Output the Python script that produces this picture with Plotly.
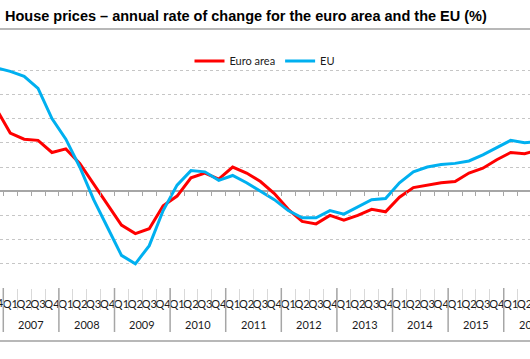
import plotly.graph_objects as go

# ---- data -------------------------------------------------------------
quarters = ["Q1", "Q2", "Q3", "Q4"]
periods = ["2006Q4"] + [f"{y}{q}" for y in range(2007, 2016) for q in quarters] + ["2016Q1", "2016Q2", "2016Q3"]

euro_area = [6.8, 4.8, 4.3, 4.2, 3.2, 3.5, 2.3, 0.6, -1.1, -2.8, -3.5, -3.1, -1.2,
             -0.4, 1.1, 1.5, 1.0, 2.0, 1.5, 0.8, -0.2, -1.5, -2.5, -2.7, -2.0,
             -2.4, -2.0, -1.5, -1.7, -0.5, 0.3, 0.5, 0.7, 0.8, 1.5, 1.9, 2.6,
             3.2, 3.1, 3.4]
eu = [10.2, 9.9, 9.5, 8.5, 6.0, 4.3, 2.0, -0.7, -3.0, -5.3, -6.0, -4.5, -1.6,
      0.5, 1.7, 1.6, 0.9, 1.3, 0.7, 0.0, -0.7, -1.6, -2.2, -2.2, -1.6,
      -1.9, -1.3, -0.7, -0.6, 0.7, 1.6, 2.0, 2.2, 2.3, 2.5, 3.0, 3.6,
      4.2, 4.0, 4.1]

year_labels = [str(y) for y in range(2007, 2017)]

# ---- geometry helpers --------------------------------------------------
W, H = 530, 359
TOP, BOTTOM = 46, 288             # plot area in px
X_RANGE = [-0.737, 37.39]         # visible window (quarter index, 0 = 2007Q1)
Y_RANGE = [-8, 12]

def idx(p):
    y, q = int(p[:4]), int(p[-1])
    return (y - 2007) * 4 + (q - 1)

xs = [idx(p) for p in periods]
qtext = ["Q" + p[-1] for p in periods]

def xpaper(v):
    return (v - X_RANGE[0]) / (X_RANGE[1] - X_RANGE[0])

def ypaper(px):
    return (BOTTOM - px) / (BOTTOM - TOP)

FONT = "Lato, Carlito, Calibri, sans-serif"
GRID = "#c6c6c6"
AXIS = "#a6a6a6"
TXT = "#1a1a1a"

fig = go.Figure()
fig.add_trace(go.Scatter(x=xs, y=euro_area, mode="lines", name="Euro area",
                         line=dict(color="#ff0000", width=3)))
fig.add_trace(go.Scatter(x=xs, y=eu, mode="lines", name="EU",
                         line=dict(color="#00b0f0", width=3)))
# helper trace so the zero-line tick axis is drawn
fig.add_trace(go.Scatter(x=[], y=[], xaxis="x2", showlegend=False, hoverinfo="skip"))

shapes = []
# year dividers below the axis
for k in range(0, 11):
    b = -0.5 + 4 * k
    if X_RANGE[0] <= b <= X_RANGE[1]:
        shapes.append(dict(type="line", xref="x", yref="paper", x0=b, x1=b,
                           y0=0, y1=ypaper(332), line=dict(color=AXIS, width=1.5)))
# frame lines (title underline and bottom border)
shapes.append(dict(type="line", xref="paper", yref="paper", x0=0, x1=1,
                   y0=ypaper(29), y1=ypaper(29), line=dict(color="#a0a0a0", width=1.5)))
shapes.append(dict(type="line", xref="paper", yref="paper", x0=0, x1=1,
                   y0=ypaper(341), y1=ypaper(341), line=dict(color="#a0a0a0", width=1.5)))

annotations = []
for i, yl in enumerate(year_labels):
    c = 1.5 + 4 * i
    annotations.append(dict(text=yl, xref="paper", yref="paper", x=xpaper(c),
                            y=ypaper(324), xanchor="center", yanchor="middle",
                            showarrow=False, font=dict(family=FONT, size=11, color=TXT)))
# quarter labels of periods lying just outside the visible window (partly shown)
for x, t in zip(xs, qtext):
    if x < X_RANGE[0] or x > X_RANGE[1]:
        annotations.append(dict(text=t, xref="paper", yref="paper", x=xpaper(x),
                                y=ypaper(302.5), xanchor="center", yanchor="middle",
                                showarrow=False, font=dict(family=FONT, size=11, color=TXT)))

fig.update_layout(
    width=W, height=H,
    margin=dict(l=0, r=0, t=TOP, b=H - BOTTOM, pad=0),
    paper_bgcolor="white", plot_bgcolor="white",
    title=dict(text="<b>House prices – annual rate of change for the euro area and the EU (%)</b>",
               x=5 / W, xanchor="left", xref="paper", y=1 - 16 / H, yanchor="middle",
               font=dict(family="Liberation Sans, Arial, sans-serif", size=14.5, color="#000000")),
    legend=dict(orientation="h", x=0.5, xanchor="center", y=ypaper(61), yanchor="middle",
                font=dict(family=FONT, size=11, color=TXT), itemwidth=30,
                bgcolor="rgba(0,0,0,0)", tracegroupgap=0),
    xaxis=dict(range=X_RANGE, tickmode="array", tickvals=xs, ticktext=qtext,
               tickangle=0, ticks="", showgrid=False, zeroline=False, showline=False,
               automargin=False, ticklabelstandoff=8, ticklabeloverflow="allow",
               tickfont=dict(family=FONT, size=11, color=TXT),
               minor=dict(tick0=-0.5, dtick=1, ticks="outside", ticklen=21,
                          tickcolor="#d9d9d9", tickwidth=1, showgrid=False)),
    xaxis2=dict(range=X_RANGE, overlaying="x", anchor="free", position=ypaper(191.3),
                tick0=-0.5, dtick=1, ticks="outside", ticklen=4, tickcolor=AXIS,
                tickwidth=1, showticklabels=False, showgrid=False, zeroline=False,
                showline=False, automargin=False),
    yaxis=dict(range=Y_RANGE, dtick=2, showticklabels=False, ticks="",
               showgrid=True, gridcolor=GRID, griddash="dot", gridwidth=1,
               zeroline=True, zerolinecolor=AXIS, zerolinewidth=1.5,
               automargin=False, showline=False),
    shapes=shapes, annotations=annotations, showlegend=True,
)

fig.write_html("out.html", config={"displayModeBar": False},
               post_script="document.body.style.margin='0';document.body.style.overflow='hidden';")
